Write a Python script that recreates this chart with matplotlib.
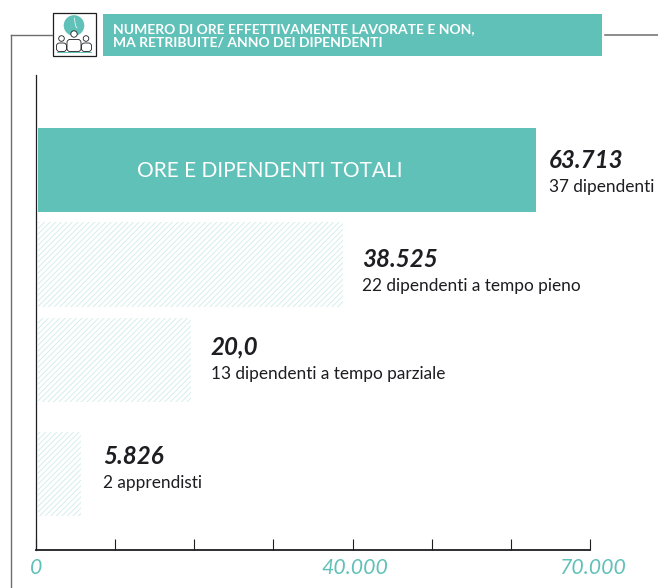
import matplotlib
matplotlib.use('Agg')
import matplotlib.pyplot as plt
from matplotlib.patches import Circle, Rectangle, FancyBboxPatch
from matplotlib.transforms import ScaledTranslation

# data
categorie = ['ORE E DIPENDENTI TOTALI', '', '', '']
ore_barre = [63200, 38800, 19580, 5740]
etichette = ['63.713', '38.525', '20,0', '5.826']
sottotitoli = ['37 dipendenti', '22 dipendenti a tempo pieno',
               '13 dipendenti a tempo parziale', '2 apprendisti']
tick_valori = [0, 10000, 20000, 30000, 40000, 50000, 60000, 70000]
tick_testi = ['0', '', '', '', '40.000', '', '', '70.000']
titolo = 'NUMERO DI ORE EFFETTIVAMENTE LAVORATE E NON,\nMA RETRIBUITE/ ANNO DEI DIPENDENTI'

# layout, in pixels of the 658x588 picture
W, H = 658, 588
bar_top = [128, 222, 318, 432]
bar_bottom = [212, 307, 402, 516]
label_dx = [13, 19, 20, 22]
label_dy = [10, 5.5, 13, 18]

TEAL = '#60c1b8'
HATCH = '#cfece8'
DARK = '#1d1d22'
GRAY = '#6e6e72'

plt.rcParams['font.family'] = ['Lato', 'DejaVu Sans']
plt.rcParams['hatch.linewidth'] = 0.6

fig = plt.figure(figsize=(W / 100, H / 100), dpi=100)

# chart axes: x 36-590 px, y 75-549.5 px, y in pixels
ax = fig.add_axes([36 / W, 1 - 549.5 / H, 554 / W, 474.5 / H])
ax.set_xlim(0, 70000)
ax.set_ylim(549.5, 75)
ax.patch.set_alpha(0)

gap = 190  # small white gap next to the axis line
for i in range(4):
    y = bar_top[i]
    h = bar_bottom[i] - bar_top[i]
    if i == 0:
        ax.barh(y + h / 2, ore_barre[i] - gap, left=gap, height=h, color=TEAL)
    else:
        ax.barh(y + h / 2, ore_barre[i] - gap, left=gap, height=h, color='white',
                edgecolor=HATCH, hatch='/' * 6, linewidth=0)
    ax.annotate(etichette[i], (ore_barre[i], y + h / 2),
                xytext=(label_dx[i] * 0.72, label_dy[i] * 0.72),
                textcoords='offset points', ha='left', va='center', fontsize=17.4,
                fontweight='bold', fontstyle='italic', color=DARK)
    ax.annotate(sottotitoli[i], (ore_barre[i], y + h / 2),
                xytext=(label_dx[i] * 0.72, (label_dy[i] - 27) * 0.72),
                textcoords='offset points', ha='left', va='center', fontsize=12.4,
                color=DARK)
ax.text(29500, (bar_top[0] + bar_bottom[0]) / 2 + 1, categorie[0], ha='center',
        va='center', color='white', fontsize=15)

for s in ['top', 'right']:
    ax.spines[s].set_visible(False)
ax.spines['left'].set_linewidth(0.9)
ax.spines['bottom'].set_linewidth(1.3)
ax.spines['left'].set_color(DARK)
ax.spines['bottom'].set_color(DARK)
ax.set_yticks([])
ax.set_xticks(tick_valori)
ax.set_xticklabels(tick_testi, fontsize=15.3, fontstyle='italic', color=TEAL)
ax.tick_params(axis='x', direction='in', length=8, width=0.8, color=DARK, pad=6)
for lab in ax.get_xticklabels()[1:]:
    lab.set_transform(lab.get_transform() + ScaledTranslation(0.025, 0, fig.dpi_scale_trans))

# header, drawn in picture pixels
top = fig.add_axes([0, 0, 1, 1])
top.set_xlim(0, W)
top.set_ylim(H, 0)
top.axis('off')
top.patch.set_alpha(0)

top.plot([11.3, 52], [34.5, 34.5], color=GRAY, lw=1)
top.plot([11.3, 11.3], [34.5, H], color=GRAY, lw=1)
top.plot([605, 658], [34.8, 34.8], color=GRAY, lw=1.1)

top.add_patch(Rectangle((52.5, 12.5), 43, 43, fc='white', ec=DARK, lw=0.9))
top.add_patch(Rectangle((103, 14), 499, 42, fc=TEAL, ec='none'))
top.text(113, 35.5, titolo, color='white', fontsize=10, fontweight='bold', va='center',
         ha='left', linespacing=1.15)

# clock
top.add_patch(Circle((74, 25.5), 10.3, fc=TEAL, ec='none'))
top.plot([74.3, 75.5, 77], [18, 25.5, 28], color='white', lw=0.5)

# three people
for x0, x1, y0 in [(56.5, 66.5, 43), (81.5, 91.5, 43), (67, 81, 39.5)]:
    top.add_patch(FancyBboxPatch((x0, y0), x1 - x0, 51.5 - y0,
                                 boxstyle='round,pad=0,rounding_size=3',
                                 fc='white', ec=DARK, lw=0.6))
for cx, cy, r in [(61.5, 38.5, 2.8), (74, 34, 3.2), (86, 38.5, 2.8)]:
    top.add_patch(Circle((cx, cy), r, fc='white', ec=DARK, lw=0.6))
top.plot([57, 91], [51.8, 51.8], color=TEAL, lw=0.7)

fig.savefig('out.png', dpi=100)
